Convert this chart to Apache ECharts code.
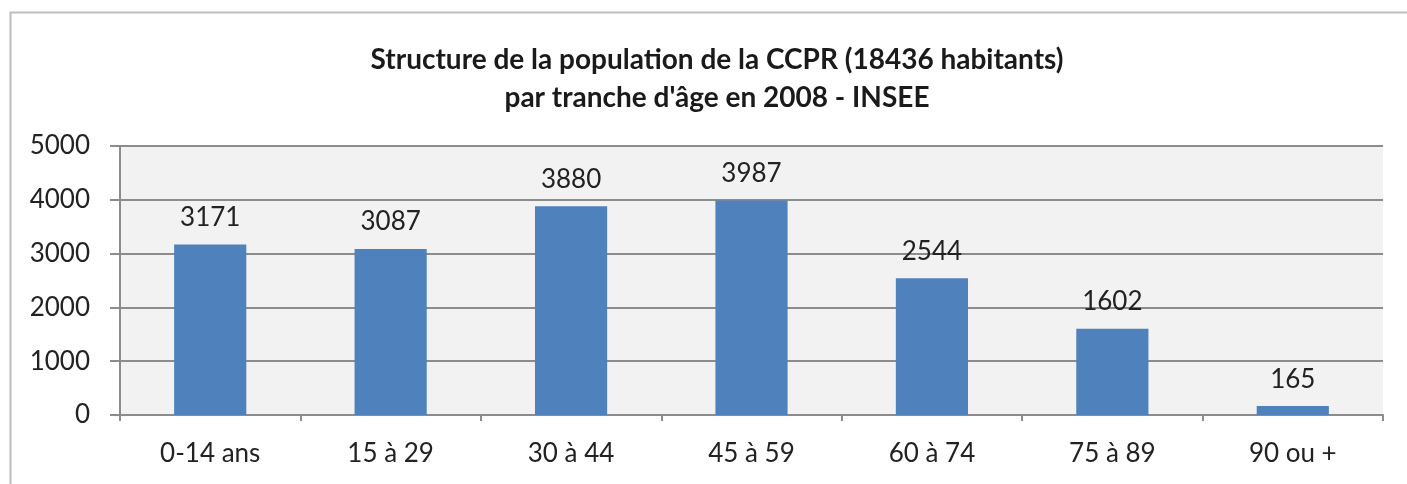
<!DOCTYPE html>
<html>
<head>
<meta charset="utf-8">
<script src="https://cdn.jsdelivr.net/npm/echarts@6/dist/echarts.min.js"></script>
<style>
  html, body { margin: 0; padding: 0; background: #fff; }
  #chart { width: 1407px; height: 484px; }
</style>
</head>
<body>
<div id="chart"></div>
<script>
// age bands and population counts (INSEE 2008)
const ageBands = ['0-14 ans', '15 à 29', '30 à 44', '45 à 59', '60 à 74', '75 à 89', '90 ou +'];
const population = [3171, 3087, 3880, 3987, 2544, 1602, 165];
const titleLines = ['Structure de la population de la CCPR (18436 habitants)', "par tranche d'âge en 2008 - INSEE"];

const chart = echarts.init(document.getElementById('chart'));
const font = 'Lato, "Open Sans", sans-serif';

chart.setOption({
  animation: false,
  textStyle: { fontFamily: font },
  title: {
    text: titleLines.join('\n'),
    left: 712,
    textAlign: 'center',
    top: 36,
    textStyle: { fontFamily: font, fontSize: 28, fontWeight: 'bold', color: '#1a1a1a', lineHeight: 38 }
  },
  graphic: [{
    type: 'rect',
    shape: { x: 10.5, y: 12.5, width: 1450, height: 520 },
    style: { fill: 'none', stroke: '#bdbdbd', lineWidth: 2 },
    silent: true
  }],
  grid: { left: 120, right: 24, top: 146, bottom: 69, show: true, backgroundColor: '#f2f2f2', borderWidth: 0 },
  xAxis: {
    type: 'category',
    data: ageBands,
    axisLine: { lineStyle: { color: '#8c8c8c', width: 2 } },
    axisTick: { show: true, length: 6, alignWithLabel: false, lineStyle: { color: '#8c8c8c', width: 2 } },
    axisLabel: { fontSize: 26, color: '#222', margin: 26, fontFamily: font }
  },
  yAxis: {
    type: 'value',
    min: 0,
    max: 5000,
    interval: 1000,
    axisLine: { show: true, lineStyle: { color: '#8c8c8c', width: 2 } },
    axisTick: { show: true, length: 10, lineStyle: { color: '#8c8c8c', width: 2 } },
    axisLabel: { fontSize: 26, color: '#222', margin: 30, fontFamily: font, formatter: v => String(v) },
    splitLine: { lineStyle: { color: '#8c8c8c', width: 2 } }
  },
  series: [{
    type: 'bar',
    data: population,
    barWidth: '40%',
    itemStyle: { color: '#4f81bd' },
    label: {
      show: true,
      position: 'top',
      distance: 14,
      fontSize: 26,
      color: '#222',
      fontFamily: font
    }
  }]
});
</script>
</body>
</html>
